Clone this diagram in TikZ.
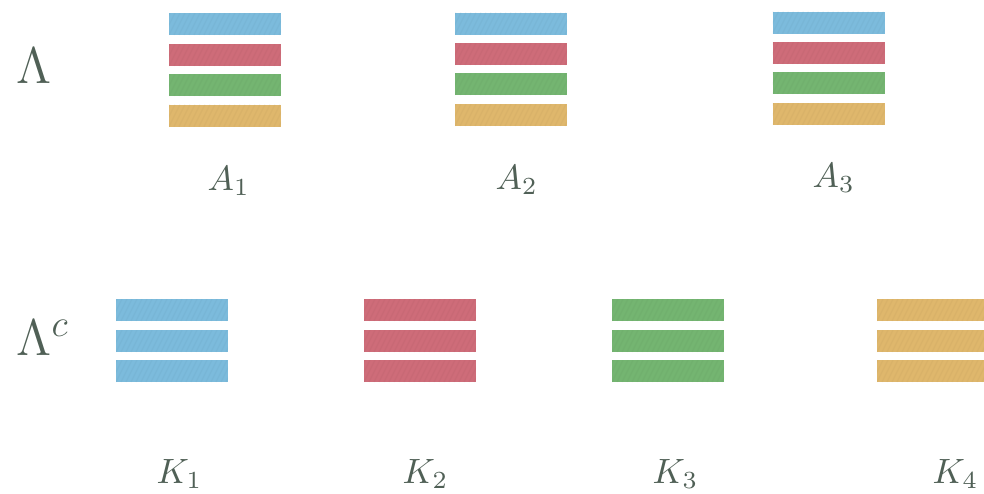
\documentclass[tikz,border=0pt]{standalone}
\usetikzlibrary{calc}
\definecolor{barblue}{RGB}{124,187,220}
\definecolor{barred}{RGB}{206,108,121}
\definecolor{bargreen}{RGB}{116,181,113}
\definecolor{baryellow}{RGB}{223,183,108}
\definecolor{inkgrey}{RGB}{80,96,86}
\tikzset{
  bar/.style={minimum width=1.12cm, minimum height=0.22cm, inner sep=0pt,
    fill=#1, draw=none,
    path picture={
      \foreach \k in {0,...,24}{
        \draw[#1!75!black, opacity=0.10, line width=0.35pt]
          ($(path picture bounding box.south west)+(\k*0.05-0.1,0)$) -- ++(0.11,0.22);
      }
    }},
  lbl/.style={anchor=base west, inner sep=0pt, text=inkgrey,
    font=\fontsize{10}{12}\selectfont},
  biglbl/.style={anchor=base west, inner sep=0pt, text=inkgrey,
    font=\fontsize{12}{14}\selectfont},
}
\begin{document}
\begin{tikzpicture}[x=1cm,y=1cm]
\useasboundingbox (0,0) rectangle (9.84,-4.93);

% side labels
\node[biglbl] (lam)  at (0.16,-0.83) {\scalebox{1.22}{$\Lambda$}};
\node[biglbl] (lamc) at (0.16,-3.55) {\scalebox{1.22}{$\Lambda$}\raisebox{5.2pt}{\scalebox{0.9}{$c$}}};

% upper row: A_1, A_2, A_3, each holding one bar of every colour
\node[bar=barblue]   (a1b) at (2.25,-0.24)  {};
\node[bar=barred]    (a1r) at (2.25,-0.55)  {};
\node[bar=bargreen]  (a1g) at (2.25,-0.85)  {};
\node[bar=baryellow] (a1y) at (2.25,-1.155) {};

\node[bar=barblue]   (a2b) at (5.11,-0.235) {};
\node[bar=barred]    (a2r) at (5.11,-0.54)  {};
\node[bar=bargreen]  (a2g) at (5.11,-0.84)  {};
\node[bar=baryellow] (a2y) at (5.11,-1.15)  {};

\node[bar=barblue]   (a3b) at (8.285,-0.225) {};
\node[bar=barred]    (a3r) at (8.285,-0.53)  {};
\node[bar=bargreen]  (a3g) at (8.285,-0.83)  {};
\node[bar=baryellow] (a3y) at (8.285,-1.14)  {};

\node[lbl] (A1) at (2.07,-1.90) {$A_1$};
\node[lbl] (A2) at (4.95,-1.89) {$A_2$};
\node[lbl] (A3) at (8.12,-1.87) {$A_3$};

% lower row: K_1 .. K_4, each holding three bars of one colour
\foreach \name/\cx/\col in {k1/1.72/barblue, k2/4.20/barred, k3/6.68/bargreen, k4/9.33/baryellow}{
  \node[bar=\col] (\name a) at (\cx,-3.10) {};
  \node[bar=\col] (\name b) at (\cx,-3.41) {};
  \node[bar=\col] (\name c) at (\cx,-3.71) {};
}

\node[lbl] (K1) at (1.56,-4.83) {$K_1$};
\node[lbl] (K2) at (4.02,-4.83) {$K_2$};
\node[lbl] (K3) at (6.52,-4.83) {$K_3$};
\node[lbl] (K4) at (9.32,-4.83) {$K_4$};
\end{tikzpicture}
\end{document}
